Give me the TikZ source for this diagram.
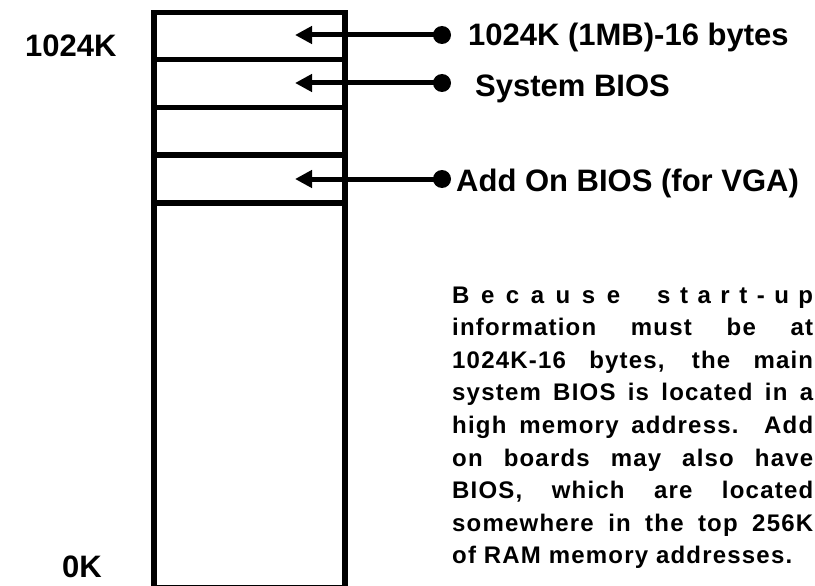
\documentclass[tikz,border=0pt]{standalone}
\usepackage{fontspec}
\setmainfont{Liberation Sans}
\newfontfamily\parfont{Liberation Sans Bold}[LetterSpace=5]
\usetikzlibrary{arrows.meta}
\newcommand\pline[1]{\makebox[361pt][s]{#1}}
\begin{document}
\begin{tikzpicture}[x=1pt,y=-1pt,
  wall/.style={line width=5.5pt},
  dot/.style={circle,fill=black,inner sep=0pt,minimum size=18pt},
  conn/.style={line width=5pt,-{Triangle[width=17pt,length=17pt]}},
  lab/.style={font=\fontsize{31}{36}\selectfont\bfseries,inner sep=0pt,anchor=base west},
  para/.style={inner sep=0pt,anchor=base west,font=\fontsize{24}{28}\parfont},
  para1/.style={inner sep=0pt,anchor=base west,font=\fontsize{24}{28}\selectfont\bfseries}]
\useasboundingbox (0,0) rectangle (815,586);
% memory column
\draw[wall] (154,12.5) rectangle (345,588);
\foreach \yy in {59.5,107.7,155,203} \draw[wall] (154,\yy) -- (345,\yy);
% address labels
\node[lab] (k1024) at (25,57) {1024K};
\node[lab] (k0) at (62,577) {0K};
% pointer labels
\node[lab] (l1) at (468,46) {1024K (1MB)-16 bytes};
\node[lab] (l2) at (475,97) {System BIOS};
\node[lab] (l3) at (456,191) {Add On BIOS (for VGA)};
% pointers
\node[dot] (d1) at (442,35) {};
\node[dot] (d2) at (442,83) {};
\node[dot] (d3) at (442,179) {};
\coordinate (t1) at (295,35);
\coordinate (t2) at (295,83);
\coordinate (t3) at (295,179);
\draw[conn] (d1.center) -- (t1);
\draw[conn] (d2.center) -- (t2);
\draw[conn] (d3.center) -- (t3);
% paragraph
\node[para1] (p1) at (452,303) {\hbox to 361pt{\hbox to 168pt{B\hfil e\hfil c\hfil a\hfil u\hfil s\hfil e}\hfil
  \hbox to 156pt{s\hfil t\hfil a\hfil r\hfil t\hfil -\hfil u\hfil p}}};
\node[para] (p2) at (452,335.6) {\pline{information must be at}};
\node[para] (p3) at (452,368.2) {\pline{1024K-16 bytes, the main}};
\node[para] (p4) at (452,400.8) {\pline{system BIOS is located in a}};
\node[para] (p5) at (452,433.4) {\pline{high memory address.\ \ Add}};
\node[para] (p6) at (452,466) {\pline{on boards may also have}};
\node[para] (p7) at (452,498.6) {\pline{BIOS, which are located}};
\node[para] (p8) at (452,531.2) {\pline{somewhere in the top 256K}};
\node[para] (p9) at (452,563.8) {of RAM memory addresses.};
\end{tikzpicture}
\end{document}
